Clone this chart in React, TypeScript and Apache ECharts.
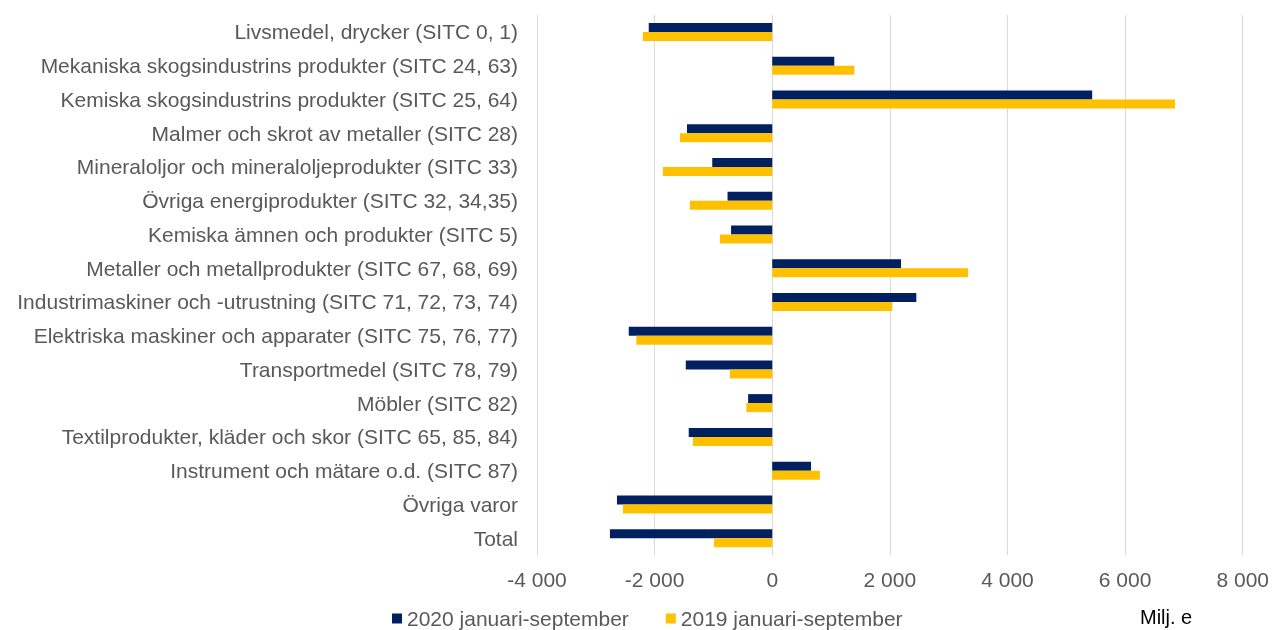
import React, { useEffect, useRef } from "react";
import * as echarts from "echarts";

const categories = [
  "Livsmedel, drycker (SITC 0, 1)",
  "Mekaniska skogsindustrins produkter (SITC 24, 63)",
  "Kemiska skogsindustrins produkter (SITC 25, 64)",
  "Malmer och skrot av metaller (SITC 28)",
  "Mineraloljor och mineraloljeprodukter (SITC 33)",
  "Övriga energiprodukter (SITC 32, 34,35)",
  "Kemiska ämnen och produkter (SITC 5)",
  "Metaller och metallprodukter (SITC 67, 68, 69)",
  "Industrimaskiner och -utrustning (SITC 71, 72, 73, 74)",
  "Elektriska maskiner och apparater (SITC 75, 76, 77)",
  "Transportmedel (SITC 78, 79)",
  "Möbler (SITC 82)",
  "Textilprodukter, kläder och skor (SITC 65, 85, 84)",
  "Instrument och mätare o.d. (SITC 87)",
  "Övriga varor",
  "Total",
];

const series2020 = [-2100, 1055, 5440, -1450, -1020, -760, -700, 2190, 2450, -2440, -1470, -410, -1420, 660, -2640, -2760];
const series2019 = [-2200, 1395, 6850, -1570, -1860, -1400, -890, 3330, 2040, -2310, -720, -440, -1350, 810, -2540, -990];

const seriesNames = ["2020 januari-september", "2019 januari-september"];
const unitLabel = "Milj. e";

const fmt = (v: number) => {
  const s = Math.abs(v).toString().replace(/\B(?=(\d{3})+(?!\d))/g, " ");
  return (v < 0 ? "-" : "") + s;
};

export default function App() {
  const ref = useRef<HTMLDivElement>(null);
  useEffect(() => {
    if (!ref.current) return;
    const chart = echarts.init(ref.current, null, { renderer: "svg" });
    const font = "'Liberation Sans', Arial, sans-serif";
    chart.setOption({
      animation: false,
      textStyle: { fontFamily: font },
      grid: { left: 537, right: 27, top: 15, bottom: 75, containLabel: false },
      legend: {
        left: 387,
        top: 603,
        padding: 5,
        itemWidth: 10,
        itemHeight: 10,
        itemGap: 37,
        icon: "rect",
        textStyle: { fontSize: 21, color: "#595959", fontFamily: font },
        data: seriesNames,
      },
      xAxis: {
        type: "value",
        min: -4000,
        max: 8000,
        interval: 2000,
        axisLine: { show: false },
        axisTick: { show: false },
        splitLine: { show: true, lineStyle: { color: "#d9d9d9", width: 1 } },
        axisLabel: { formatter: fmt, fontSize: 21, color: "#595959", margin: 14, fontFamily: font },
      },
      yAxis: {
        type: "category",
        inverse: true,
        data: categories,
        axisLine: { show: false },
        axisTick: { show: false },
        axisLabel: { fontSize: 21, color: "#595959", margin: 19, fontFamily: font },
      },
      graphic: [
        {
          type: "text",
          left: 1140,
          top: 607,
          style: { text: unitLabel, fontSize: 20, fill: "#000000", fontFamily: font },
        },
      ],
      series: [
        {
          name: seriesNames[0],
          type: "bar",
          data: series2020,
          barWidth: 9,
          barGap: "0%",
          itemStyle: { color: "#002060" },
        },
        {
          name: seriesNames[1],
          type: "bar",
          data: series2019,
          barWidth: 9,
          barGap: "0%",
          itemStyle: { color: "#FFC000" },
        },
      ],
    });
    return () => chart.dispose();
  }, []);
  return <div ref={ref} style={{ position: "fixed", left: 0, top: 0, width: 1272, height: 630 }} />;
}
